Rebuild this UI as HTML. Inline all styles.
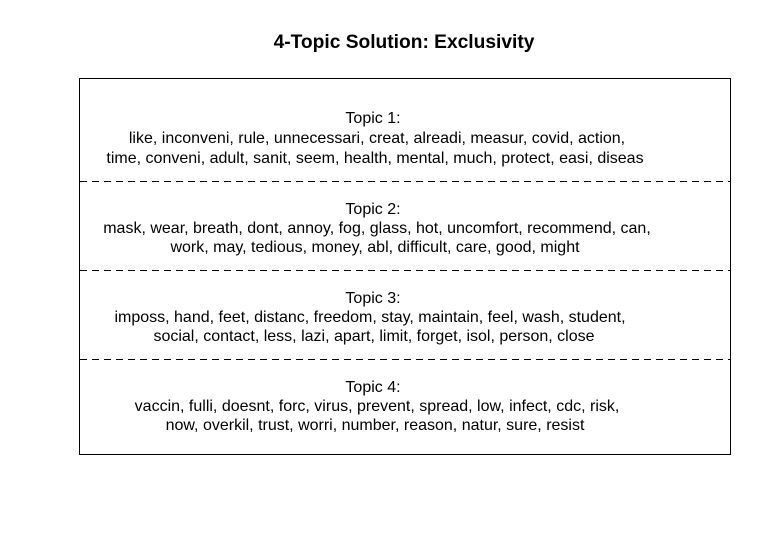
<!DOCTYPE html>
<html><head><meta charset="utf-8"><style>
html,body{margin:0;padding:0;background:#fff;width:771px;height:553px;overflow:hidden}
svg{display:block}
text{font-family:"Liberation Sans",Arial,sans-serif;font-size:16px;fill:#000}
</style></head><body>
<svg width="771" height="553" viewBox="0 0 771 553">
<text x="404" y="48" text-anchor="middle" style="font-weight:bold;font-size:19.2px">4-Topic Solution: Exclusivity</text>
<rect x="79.5" y="78.5" width="651" height="376" fill="none" stroke="#000" stroke-width="1"/>
<g stroke="#000" stroke-width="1" stroke-dasharray="7,5">
<line x1="80" y1="181.5" x2="730" y2="181.5"/>
<line x1="80" y1="270.5" x2="730" y2="270.5"/>
<line x1="80" y1="359.5" x2="730" y2="359.5"/>
</g>
<g text-anchor="middle">
<text x="373" y="123">Topic 1:</text>
<text x="377" y="143">like, inconveni, rule, unnecessari, creat, alreadi, measur, covid, action,</text>
<text x="375" y="163">time, conveni, adult, sanit, seem, health, mental, much, protect, easi, diseas</text>
<text x="373" y="214">Topic 2:</text>
<text x="377" y="233">mask, wear, breath, dont, annoy, fog, glass, hot, uncomfort, recommend, can,</text>
<text x="375" y="252">work, may, tedious, money, abl, difficult, care, good, might</text>
<text x="373" y="303">Topic 3:</text>
<text x="370" y="322">imposs, hand, feet, distanc, freedom, stay, maintain, feel, wash, student,</text>
<text x="374" y="341">social, contact, less, lazi, apart, limit, forget, isol, person, close</text>
<text x="373" y="392">Topic 4:</text>
<text x="377" y="411">vaccin, fulli, doesnt, forc, virus, prevent, spread, low, infect, cdc, risk,</text>
<text x="375" y="430">now, overkil, trust, worri, number, reason, natur, sure, resist</text>
</g>
</svg>
</body></html>
